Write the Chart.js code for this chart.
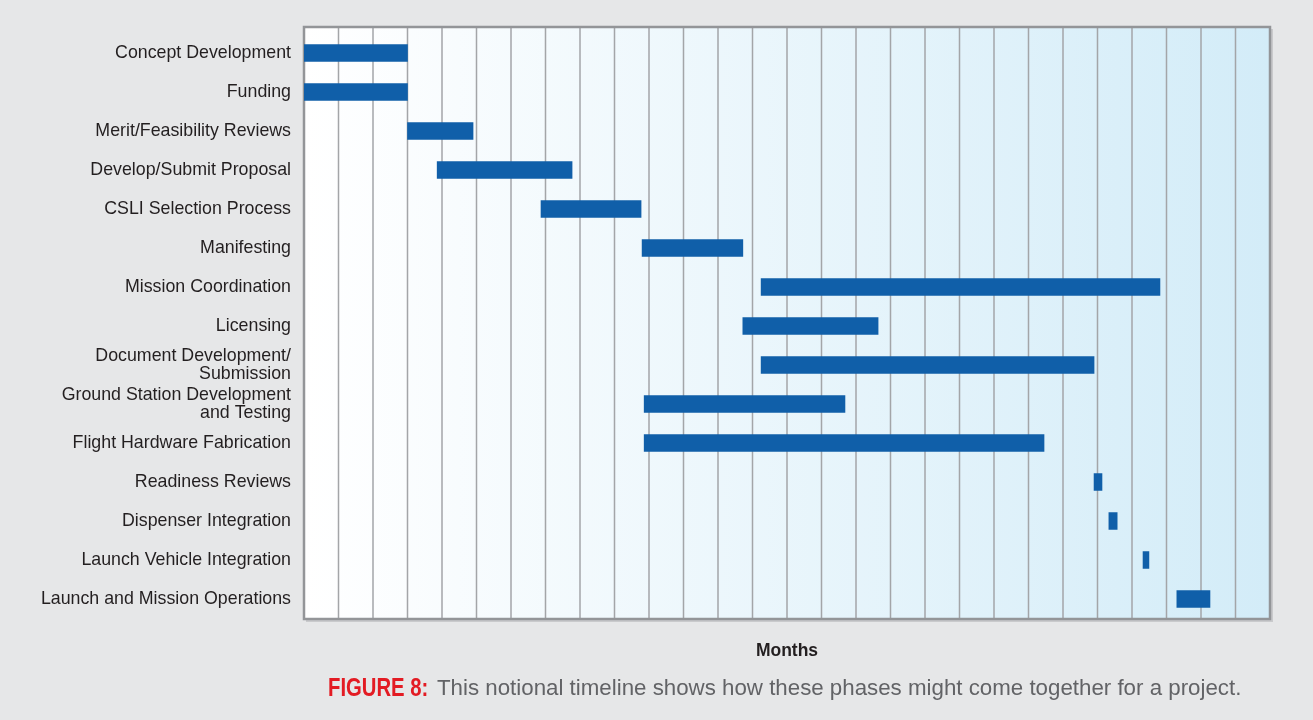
<!DOCTYPE html>
<html lang="en">
<head>
  <meta charset="UTF-8" />
  <title>Notional Timeline</title>
  <script src="https://cdn.jsdelivr.net/npm/chart.js"></script>
  <style>
    body {
      margin: 0;
      background: #e6e7e8;
      font-family: "Liberation Sans", Arial, sans-serif;
    }
    .wrap {
      position: relative;
      width: 1313px;
      height: 720px;
    }
    .fig, .caption {
      position: absolute;
      white-space: nowrap;
    }
    .fig {
      left: 328px;
      top: 672px;
      color: #e31b23;
      font-weight: bold;
      font-size: 26px;
      transform: scaleX(0.78);
      transform-origin: left top;
    }
    .caption {
      left: 437px;
      top: 675px;
      font-size: 22.3px;
      color: #626366;
    }
  </style>
</head>
<body>

<div class="wrap">
  <canvas id="timeline"></canvas>
  <div class="fig">FIGURE 8:</div>
  <div class="caption">This notional timeline shows how these phases might come together for a project.</div>
</div>

<script>
  // phases, top to bottom
  const phases = [
    "Concept Development",
    "Funding",
    "Merit/Feasibility Reviews",
    "Develop/Submit Proposal",
    "CSLI Selection Process",
    "Manifesting",
    "Mission Coordination",
    "Licensing",
    ["Document Development/", "Submission"],
    ["Ground Station Development", "and Testing"],
    "Flight Hardware Fabrication",
    "Readiness Reviews",
    "Dispenser Integration",
    "Launch Vehicle Integration",
    "Launch and Mission Operations"
  ];
  // start / end month of each phase
  const startMonth = [0, 0, 3, 3.86, 6.87, 9.8, 13.25, 12.72, 13.25, 9.86, 9.86, 22.9, 23.33, 24.32, 25.3];
  const endMonth   = [3, 3, 4.9, 7.77, 9.77, 12.72, 24.81, 16.64, 22.9, 15.68, 21.45, 23.13, 23.57, 24.49, 26.26];
  const totalMonths = 28;

  const frame = {
    id: 'frame',
    beforeDatasetsDraw(chart) {
      const { ctx, chartArea: a, scales: { x } } = chart;
      const top = a.top - 6.5, bottom = a.bottom + 0.5;
      ctx.save();
      // shadow
      ctx.fillStyle = '#c9cacc';
      ctx.fillRect(a.left + 2, top + 2, a.right - a.left + 1, bottom - top + 1);
      const g = ctx.createLinearGradient(a.left, 0, a.right, 0);
      g.addColorStop(0, '#ffffff');
      g.addColorStop(1, '#d3ecf8');
      ctx.fillStyle = g;
      ctx.fillRect(a.left, top, a.right - a.left, bottom - top);
      ctx.strokeStyle = '#a3a5a8';
      ctx.lineWidth = 1.5;
      for (let m = 1; m < totalMonths; m++) {
        const px = x.getPixelForValue(m);
        ctx.beginPath();
        ctx.moveTo(px, top);
        ctx.lineTo(px, bottom);
        ctx.stroke();
      }
      ctx.strokeStyle = '#939598';
      ctx.lineWidth = 2.5;
      ctx.strokeRect(a.left, top, a.right - a.left, bottom - top);
      ctx.restore();
    },
    afterDraw(chart) {
      const { ctx, chartArea: a } = chart;
      ctx.save();
      ctx.font = 'bold 17.5px "Liberation Sans", Arial, sans-serif';
      ctx.fillStyle = '#231f20';
      ctx.textAlign = 'center';
      ctx.textBaseline = 'middle';
      ctx.fillText('Months', (a.left + a.right) / 2, 651);
      ctx.restore();
    }
  };

  new Chart(document.getElementById('timeline'), {
    type: 'bar',
    data: {
      labels: phases,
      datasets: [{
        data: startMonth.map((s, i) => [s, endMonth[i]]),
        backgroundColor: '#105fa9',
        barThickness: 17,
        borderSkipped: false
      }]
    },
    options: {
      indexAxis: 'y',
      responsive: true,
      maintainAspectRatio: false,
      animation: false,
      layout: { padding: { left: 0, right: 43, top: 33.5, bottom: 0 } },
      plugins: {
        legend: { display: false },
        tooltip: { enabled: false }
      },
      scales: {
        x: {
          type: 'linear',
          min: 0,
          max: totalMonths,
          ticks: { display: false, stepSize: 1 },
          grid: { display: false },
          border: { display: false },
          afterFit: (s) => { s.height = 101.5; }
        },
        y: {
          ticks: {
            color: '#231f20',
            padding: 13,
            font: { family: '"Liberation Sans", Arial, sans-serif', size: 17.8, lineHeight: 0.98 }
          },
          grid: { display: false, drawTicks: false },
          border: { display: false },
          afterFit: (s) => { s.width = 304; }
        }
      }
    },
    plugins: [frame]
  });
</script>
</body>
</html>
